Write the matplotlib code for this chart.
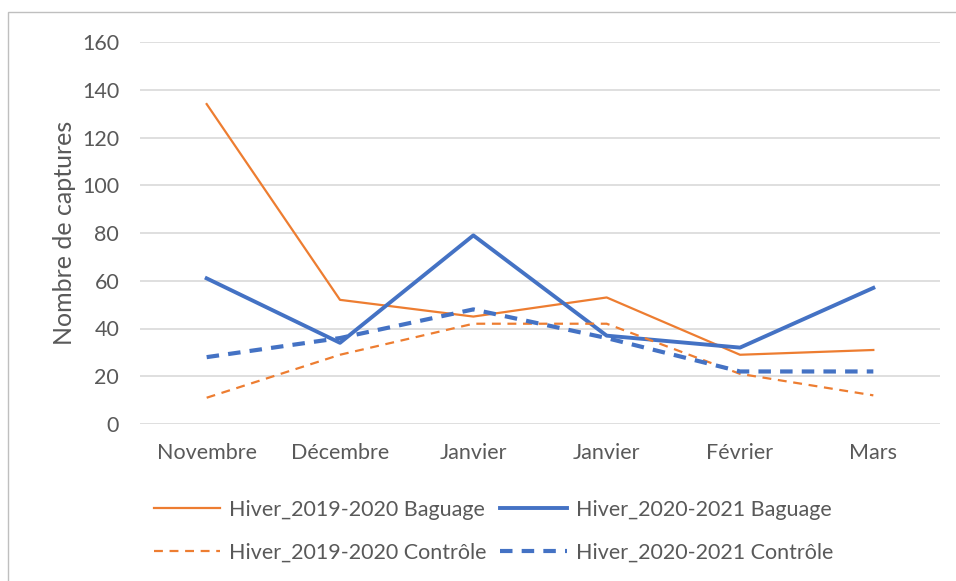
import matplotlib
matplotlib.use("Agg")
import matplotlib.pyplot as plt
from matplotlib.patches import Rectangle

plt.rcParams['font.family'] = ['Lato', 'DejaVu Sans']

mois = ["Novembre", "Décembre", "Janvier", "Janvier", "Février", "Mars"]
baguage_1920 = [134, 52, 45, 53, 29, 31]
baguage_2021 = [61, 34, 79, 37, 32, 57]
controle_1920 = [11, 29, 42, 42, 21, 12]
controle_2021 = [28, 36, 48, 36, 22, 22]

orange = "#ED7D31"
bleu = "#4472C4"
gris = "#595959"

fig = plt.figure(figsize=(9.56, 5.81), dpi=100)
ax = fig.add_axes([140 / 956, 1 - 424 / 581, 800 / 956, 382 / 581])

x = range(len(mois))
l1, = ax.plot(x, baguage_1920, color=orange, lw=1.6, label="Hiver_2019-2020 Baguage")
l2, = ax.plot(x, baguage_2021, color=bleu, lw=2.8, label="Hiver_2020-2021 Baguage")
l3, = ax.plot(x, controle_1920, color=orange, lw=1.6, ls=(0, (4, 3)), label="Hiver_2019-2020 Contrôle")
l4, = ax.plot(x, controle_2021, color=bleu, lw=3.0, ls=(0, (3, 2.2)), label="Hiver_2020-2021 Contrôle")

ax.set_xlim(-0.5, len(mois) - 0.5)
ax.set_ylim(0, 160)
ax.set_yticks(range(0, 161, 20))
ax.set_xticks(list(x))
ax.set_xticklabels(mois)
ax.grid(axis='y', color="#D9D9D9", lw=1.2)
ax.set_axisbelow(True)
for s in ax.spines.values():
    s.set_visible(False)
ax.tick_params(length=0, labelsize=15.5, colors=gris)
ax.tick_params(axis='x', pad=14)
ax.tick_params(axis='y', pad=15)
ax.set_ylabel("Nombre de captures", fontsize=18, color=gris, labelpad=4)

fig.legend(handles=[l1, l3, l2, l4], ncol=2, loc='center', bbox_to_anchor=(0.516, 0.086),
           frameon=False, fontsize=15.5, labelcolor=gris, handlelength=3.1,
           columnspacing=0.6, handletextpad=0.42, labelspacing=1.05)

fig.patches.append(Rectangle((8 / 956, -0.1), 1.1, 1 - 12 / 581 + 0.1, transform=fig.transFigure,
                             fill=False, edgecolor="#BFBFBF", lw=1))

fig.savefig("out.png", dpi=100, facecolor="white")
